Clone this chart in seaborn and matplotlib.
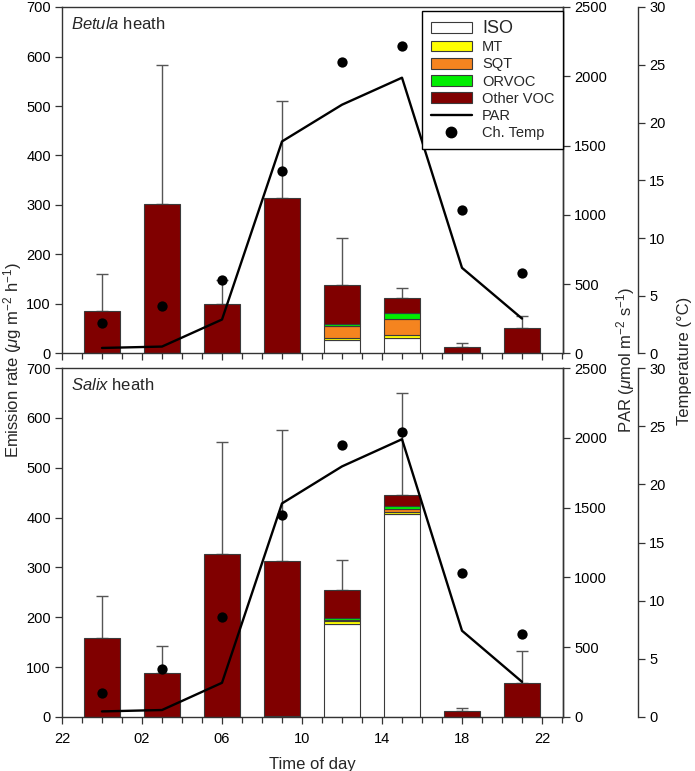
import numpy as np
import pandas as pd
import matplotlib
matplotlib.use("Agg")
import matplotlib.pyplot as plt
import seaborn as sns
from matplotlib.patches import Patch
from matplotlib.lines import Line2D
from matplotlib.ticker import MultipleLocator, FixedLocator

# ---------------- data ----------------
hours = [24, 27, 30, 33, 36, 39, 42, 45]          # 00, 03, ..., 21 h (continuous clock from 22:00)
tick_pos = [22, 26, 30, 34, 38, 42, 46]
tick_labels = ["22", "02", "06", "10", "14", "18", "22"]

par = [40, 50, 245, 1530, 1795, 1990, 618, 252]

# Betula heath
iso_b = [0, 0, 0, 1, 28, 32, 0, 0]
mt_b = [0, 0, 0, 0, 3, 5, 0, 0]
sqt_b = [0, 0, 0, 0, 24, 33, 0, 0]
orvoc_b = [0, 0, 0, 0, 4, 11, 0, 0]
other_b = [86, 303, 100, 314, 79, 31, 14, 51]
errtop_b = [160, 582, 148, 510, 233, 133, 21, 75]
temp_b = [2.6, 4.1, 6.4, 15.8, 25.2, 26.6, 12.4, 7.0]

# Salix heath
iso_s = [0, 0, 0, 2, 187, 408, 0, 0]
mt_s = [0, 0, 0, 0, 5, 4, 0, 0]
sqt_s = [0, 0, 0, 0, 3, 5, 0, 0]
orvoc_s = [0, 0, 0, 0, 3, 7, 0, 0]
other_s = [158, 88, 327, 311, 57, 22, 12, 68]
errtop_s = [243, 142, 551, 575, 315, 650, 19, 132]
temp_s = [2.1, 4.1, 8.6, 17.4, 23.4, 24.5, 12.35, 7.1]

comp_names = ["ISO", "MT", "SQT", "ORVOC", "Other VOC"]
comp_colors = ["#ffffff", "#ffff00", "#f5841f", "#00ee00", "#800000"]

# ---------------- style ----------------
sns.set_theme(style="ticks")
plt.rcParams["font.family"] = ["Liberation Sans", "DejaVu Sans"]
plt.rcParams["mathtext.fontset"] = "custom"
plt.rcParams["mathtext.rm"] = "Liberation Sans"
plt.rcParams["mathtext.it"] = "Liberation Sans:italic"
plt.rcParams["axes.edgecolor"] = "#333333"
plt.rcParams["xtick.color"] = "#333333"
plt.rcParams["ytick.color"] = "#333333"
plt.rcParams["xtick.labelcolor"] = "black"
plt.rcParams["ytick.labelcolor"] = "black"

W, H = 695, 771
fig = plt.figure(figsize=(W / 100, H / 100), dpi=100)

def fx(px):
    return px / W

def fy(py):
    return 1 - py / H

left_px, right_px = 62, 563
ax_top = fig.add_axes([fx(left_px), fy(353.5), fx(right_px - left_px), (353.5 - 7) / H])
ax_bot = fig.add_axes([fx(left_px), fy(717), fx(right_px - left_px), (717 - 368) / H])

TEMP_OFFSET = (638 - left_px) / (right_px - left_px)
FS = 10.5


def draw_panel(ax, comps, errtop, temp, title, show_xlabels):
    x = np.array(hours, dtype=float)
    bottom = np.zeros(len(x))
    for vals, col in zip(comps, comp_colors):
        vals = np.array(vals, dtype=float)
        mask = vals > 0
        ax.bar(x[mask], vals[mask], width=1.8, bottom=bottom[mask], color=col,
               edgecolor="#3a3a3a", linewidth=0.8, zorder=2)
        bottom = bottom + vals
    total = bottom
    err = np.array(errtop, dtype=float) - total
    ax.errorbar(x, total, yerr=[np.zeros(len(x)), err], fmt="none", ecolor="#555555",
                elinewidth=1.0, capsize=4.5, capthick=1.0, zorder=1)

    ax.set_xlim(22, 47.05)
    ax.set_ylim(0, 700)
    ax.yaxis.set_major_locator(MultipleLocator(100))
    ax.xaxis.set_major_locator(FixedLocator(tick_pos))
    ax.xaxis.set_minor_locator(MultipleLocator(1))
    ax.set_xticklabels(tick_labels if show_xlabels else [])
    ax.tick_params(axis="both", which="major", direction="out", length=5, width=0.9,
                   labelsize=FS, pad=3)
    ax.tick_params(axis="x", which="minor", direction="out", length=4, width=0.9)
    ax.tick_params(axis="x", which="major", pad=6)
    for s in ax.spines.values():
        s.set_linewidth(1.0)
        s.set_visible(True)
    ax.set_xlabel("")
    ax.set_ylabel("")

    ax.text(0.018, 0.975, r"$\mathit{" + title + r"}$ heath", transform=ax.transAxes,
            ha="left", va="top", fontsize=12)

    # PAR axis
    axp = ax.twinx()
    sns.lineplot(x=hours, y=par, ax=axp, color="black", linewidth=1.7, zorder=3)
    axp.set_ylim(0, 2500)
    axp.yaxis.set_major_locator(MultipleLocator(500))
    axp.tick_params(axis="y", direction="out", length=5, width=0.9, labelsize=FS, pad=3)
    axp.set_ylabel("")
    for k in ["left", "top", "bottom"]:
        axp.spines[k].set_visible(False)
    axp.spines["right"].set_linewidth(1.0)

    # Temperature axis
    axt = ax.twinx()
    axt.spines["right"].set_position(("axes", TEMP_OFFSET))
    sns.scatterplot(x=hours, y=temp, ax=axt, color="black", s=55, edgecolor="black",
                    linewidth=0, zorder=4)
    axt.set_ylim(0, 30)
    axt.yaxis.set_major_locator(MultipleLocator(5))
    axt.tick_params(axis="y", direction="out", length=5, width=0.9, labelsize=FS, pad=3)
    axt.set_ylabel("")
    for k in ["left", "top", "bottom"]:
        axt.spines[k].set_visible(False)
    axt.spines["right"].set_linewidth(1.0)
    return axp, axt


comps_b = [iso_b, mt_b, sqt_b, orvoc_b, other_b]
comps_s = [iso_s, mt_s, sqt_s, orvoc_s, other_s]
axp1, axt1 = draw_panel(ax_top, comps_b, errtop_b, temp_b, "Betula", False)
axp2, axt2 = draw_panel(ax_bot, comps_s, errtop_s, temp_s, "Salix", True)

ax_bot.set_xlabel("Time of day", fontsize=12, labelpad=8)

# Legend
handles = [Patch(facecolor=c, edgecolor="#3a3a3a", linewidth=0.8, label=n)
           for n, c in zip(comp_names, comp_colors)]
handles.append(Line2D([], [], color="black", linewidth=1.7, label="PAR"))
handles.append(Line2D([], [], color="black", marker="o", markersize=7.5, linestyle="none",
                      label="Ch. Temp"))
leg = axt1.legend(handles=handles, loc="upper right", bbox_to_anchor=(1.0, 0.988),
                  borderaxespad=0, fontsize=10.5, frameon=True, fancybox=False,
                  framealpha=1, edgecolor="black", handlelength=2.8, handleheight=0.75,
                  labelspacing=0.22, handletextpad=0.7, borderpad=0.6)
leg.get_frame().set_linewidth(1.0)
leg.get_texts()[0].set_fontsize(13)
leg.set_zorder(10)

# Axis labels
fig.text(fx(13), fy(360), r"Emission rate ($\mathit{\mu}$g m$^{-2}$ h$^{-1}$)", rotation=90,
         ha="center", va="center", fontsize=12)
fig.text(fx(626), fy(360), r"PAR ($\mathit{\mu}$mol m$^{-2}$ s$^{-1}$)", rotation=90,
         ha="center", va="center", fontsize=12)
fig.text(fx(684), fy(361), "Temperature (°C)", rotation=90,
         ha="center", va="center", fontsize=12)

fig.savefig("out.png", dpi=100)
